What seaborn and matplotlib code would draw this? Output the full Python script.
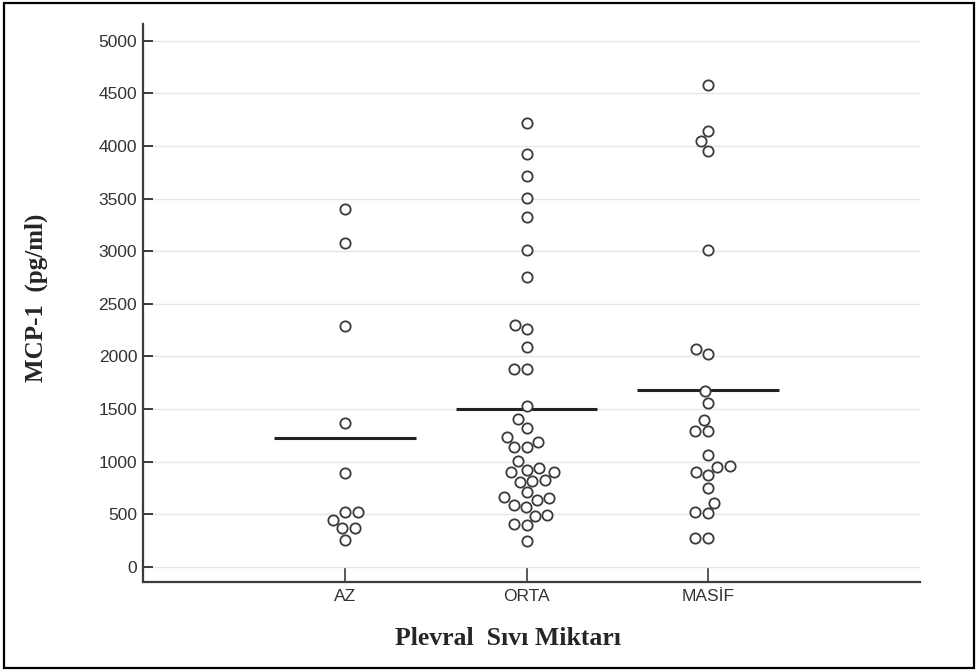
import numpy as np
import pandas as pd
import matplotlib
matplotlib.use("Agg")
import matplotlib.pyplot as plt
import seaborn as sns
from matplotlib.patches import Rectangle

categories = ["AZ", "ORTA", "MASİF"]

az_values = [3400, 3083, 2291, 1366, 891, 526, 526, 447, 368, 368, 257]

orta_values = [4218, 3923, 3717, 3505, 3324, 3013, 2754, 2300, 2259, 2094,
               1879, 1879, 1527, 1407, 1319, 1239, 1191, 1144, 1144, 1008,
               906, 900, 922, 944, 818, 811, 827, 716, 659, 668, 637, 573,
               589, 488, 494, 399, 406, 247]

masif_values = [4582, 4144, 4049, 3954, 3013, 2069, 2022, 1667, 1556, 1397,
                1287, 1290, 1065, 954, 960, 875, 900, 748, 611, 526, 510,
                273, 273]

y_ticks = [0, 500, 1000, 1500, 2000, 2500, 3000, 3500, 4000, 4500, 5000]

df = pd.DataFrame({
    "group": ["AZ"] * len(az_values) + ["ORTA"] * len(orta_values) + ["MASİF"] * len(masif_values),
    "value": az_values + orta_values + masif_values,
})

sns.set_theme(style="white")
plt.rcParams["font.family"] = ["Liberation Sans", "DejaVu Sans"]

fig = plt.figure(figsize=(9.78, 6.71), dpi=100)
ax = fig.add_axes([0.146, 0.132, 0.795, 0.832])

ax.set_ylim(-148, 5159)
ax.set_xlim(-1.116, 3.17)

ax.yaxis.grid(True, color="#e6e6e6", linewidth=1.0, zorder=0)
ax.set_axisbelow(True)

sns.swarmplot(data=df, x="group", y="value", order=categories, ax=ax,
              color="white", edgecolor="#3a3a3a", linewidth=1.3, size=7.4,
              zorder=3)

means = df.groupby("group")["value"].mean()
for i, cat in enumerate(categories):
    ax.hlines(means[cat], i - 0.39, i + 0.39, color="#222222", linewidth=2.2, zorder=2)

ax.set_xlim(-1.116, 3.17)
ax.set_yticks(y_ticks)
ax.set_yticklabels([str(t) for t in y_ticks])

for s in ["top", "right"]:
    ax.spines[s].set_visible(False)
for s in ["left", "bottom"]:
    ax.spines[s].set_color("#3c3c3c")
    ax.spines[s].set_linewidth(1.6)

ax.tick_params(axis="y", direction="in", length=7, width=1.4, color="#3c3c3c",
               labelsize=12.5, labelcolor="#333333", pad=4, left=True)
ax.tick_params(axis="x", direction="in", length=10, width=1.2, color="#3c3c3c",
               labelsize=12.5, labelcolor="#333333", pad=5, bottom=True)

ax.set_xlabel("Plevral  Sıvı Miktarı", fontsize=18.5, fontweight="bold",
              family=["Liberation Serif", "DejaVu Serif"])
ax.set_ylabel("MCP-1  (pg/ml)", fontsize=18, fontweight="bold",
              family=["Liberation Serif", "DejaVu Serif"])
ax.xaxis.set_label_coords(0.47, -0.08)
ax.yaxis.set_label_coords(-0.122, 0.51)

fig.patches.append(Rectangle((0.004, 0.004), 0.992, 0.992, transform=fig.transFigure,
                             fill=False, edgecolor="black", linewidth=1.6))

fig.savefig("out.png", dpi=100, facecolor="white")
